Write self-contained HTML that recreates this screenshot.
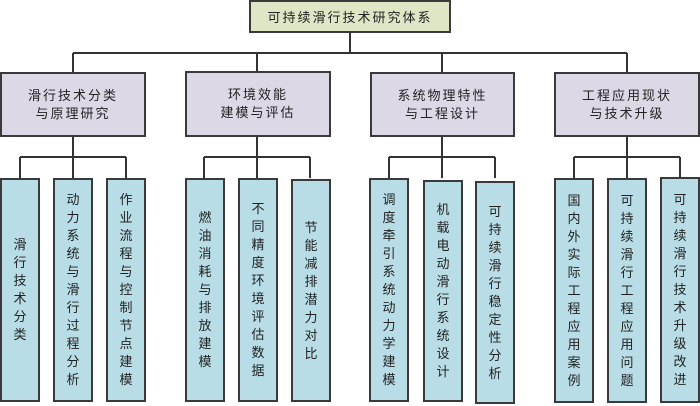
<!DOCTYPE html>
<html><head><meta charset="utf-8"><style>
body{margin:0;width:700px;height:406px;background:#fff;position:relative;overflow:hidden;font-family:"Liberation Sans","Noto Sans CJK SC",sans-serif;}
.b{position:absolute;box-sizing:border-box;border:2px solid #3a3a3a;display:flex;align-items:center;justify-content:center;text-align:center;color:#222;}
.top{background:#dfe6c6;font-size:13px;letter-spacing:2px;}
.mid{background:#ddd8e6;font-size:13px;line-height:18px;letter-spacing:2px;}
.leaf{background:#b8dde6;font-size:13px;line-height:18px;width:40px;}
.leaf span{display:block;width:14px;word-break:break-all;}
svg{position:absolute;left:0;top:0;}
</style></head><body>
<svg width="700" height="406"><g stroke="#333" stroke-width="2" fill="none">
<path d="M350 32V53M73 53H627M73 53V72M257 53V72M442 53V72M627 53V72"/>
<path d="M73 137V157M20 157H126M20 157V178M73 157V178M126 157V178"/>
<path d="M257 137V157M204 157H310M204 157V178M257 157V178M310 157V178"/>
<path d="M442 137V157M389 157H495M389 157V178M442 157V178M495 157V178"/>
<path d="M627 137V157M574 157H680M574 157V178M627 157V178M680 157V178"/>
</g></svg>
<div class="b top" style="left:249px;top:0;width:202px;height:33px">可持续滑行技术研究体系</div>
<div class="b mid" style="left:0;top:72px;width:146px;height:65px">滑行技术分类<br>与原理研究</div>
<div class="b mid" style="left:185px;top:71px;width:146px;height:66px">环境效能<br>建模与评估</div>
<div class="b mid" style="left:370px;top:72px;width:145px;height:65px">系统物理特性<br>与工程设计</div>
<div class="b mid" style="left:554px;top:72px;width:146px;height:65px">工程应用现状<br>与技术升级</div>

<div class="b leaf" style="left:0;top:178px;height:224px"><span>滑行技术分类</span></div>
<div class="b leaf" style="left:53px;top:178px;height:224px"><span>动力系统与滑行过程分析</span></div>
<div class="b leaf" style="left:106px;top:178px;height:224px"><span>作业流程与控制节点建模</span></div>

<div class="b leaf" style="left:185px;top:178px;height:224px"><span>燃油消耗与排放建模</span></div>
<div class="b leaf" style="left:238px;top:178px;height:224px"><span>不同精度环境评估数据</span></div>
<div class="b leaf" style="left:291px;top:179px;height:223px"><span>节能减排潜力对比</span></div>

<div class="b leaf" style="left:369px;top:178px;height:224px"><span>调度牵引系统动力学建模</span></div>
<div class="b leaf" style="left:423px;top:180px;height:222px"><span>机载电动滑行系统设计</span></div>
<div class="b leaf" style="left:475px;top:181px;height:223px"><span>可持续滑行稳定性分析</span></div>

<div class="b leaf" style="left:554px;top:178px;height:225px"><span>国内外实际工程应用案例</span></div>
<div class="b leaf" style="left:607px;top:178px;height:225px"><span>可持续滑行工程应用问题</span></div>
<div class="b leaf" style="left:660px;top:177px;height:226px"><span>可持续滑行技术升级改进</span></div>
</body></html>
